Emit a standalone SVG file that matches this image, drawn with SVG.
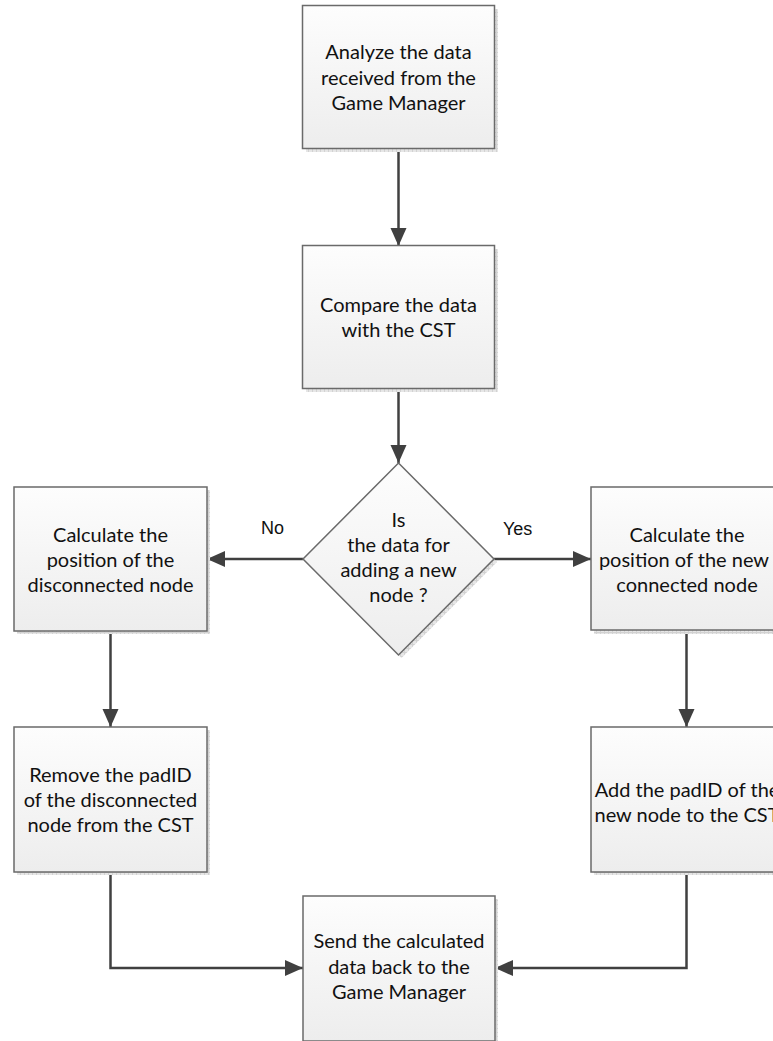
<svg xmlns="http://www.w3.org/2000/svg" width="773" height="1041" viewBox="0 0 773 1041">
  <defs>
    <linearGradient id="boxFill" x1="0" y1="0" x2="0" y2="1">
      <stop offset="0" stop-color="#fdfdfd"/>
      <stop offset="1" stop-color="#ededed"/>
    </linearGradient>
    <pattern id="shadowHatch" width="4" height="4" patternUnits="userSpaceOnUse">
      <rect width="4" height="4" fill="#e6e6e6"/>
      <path d="M0 0.5H4M0.5 0V4" stroke="#d2d2d2" stroke-width="1"/>
    </pattern>
    <marker id="arrow" markerUnits="userSpaceOnUse" markerWidth="20" markerHeight="18" refX="18" refY="8" orient="auto">
      <path d="M0 0L18 8L0 16Z" fill="#404040"/>
    </marker>
  </defs>
  <style>
    .shadow { fill: url(#shadowHatch); }
    .box { fill: url(#boxFill); stroke: #6a6a6a; stroke-width: 1.5; }
    .label { font-family: Lato, "Open Sans", sans-serif; font-size: 20px; fill: #111; text-anchor: middle; }
    .branch { font-family: "Liberation Sans", Arial, sans-serif; font-size: 18px; fill: #111; }
    .conn { fill: none; stroke: #404040; stroke-width: 2.5; marker-end: url(#arrow); }
  </style>

  <rect width="773" height="1041" fill="#ffffff"/>

  <!-- connectors -->
  <g id="connectors">
    <path class="conn" d="M398.5 148V246"/>
    <path class="conn" d="M398.5 389V463"/>
    <path class="conn" d="M303 559H207"/>
    <path class="conn" d="M494 559H591"/>
    <path class="conn" d="M110.5 631V727"/>
    <path class="conn" d="M686.5 630V727"/>
    <path class="conn" d="M110.5 872V968H303"/>
    <path class="conn" d="M686.5 872V968H495"/>
    <text class="branch" x="261" y="534">No</text>
    <text class="branch" x="503" y="535">Yes</text>
  </g>

  <!-- process: analyze incoming data -->
  <g id="analyze">
    <rect class="shadow" x="306" y="9" width="192" height="143"/>
    <rect class="box" x="302.5" y="5.5" width="192" height="143"/>
    <text class="label" x="398.5" y="59">Analyze the data</text>
    <text class="label" x="398.5" y="84.5">received from the</text>
    <text class="label" x="398.5" y="110">Game Manager</text>
  </g>

  <!-- process: compare with CST -->
  <g id="compare">
    <rect class="shadow" x="306" y="249" width="192" height="143"/>
    <rect class="box" x="302.5" y="245.5" width="192" height="143"/>
    <text class="label" x="398.5" y="311.5">Compare the data</text>
    <text class="label" x="398.5" y="337">with the CST</text>
  </g>

  <!-- decision -->
  <g id="decision">
    <path class="shadow" d="M401.5 466L497 562L401.5 658L306 562Z"/>
    <path class="box" d="M398.5 463L494 559L398.5 655L303 559Z"/>
    <text class="label" x="398.5" y="527">Is</text>
    <text class="label" x="398.5" y="552">the data for</text>
    <text class="label" x="398.5" y="577">adding a new</text>
    <text class="label" x="398.5" y="602">node ?</text>
  </g>

  <!-- left branch: disconnected node position -->
  <g id="calc-disconnected">
    <rect class="shadow" x="17" y="490" width="193" height="144"/>
    <rect class="box" x="14" y="487" width="193" height="144"/>
    <text class="label" x="110.5" y="542">Calculate the</text>
    <text class="label" x="110.5" y="567">position of the</text>
    <text class="label" x="110.5" y="592">disconnected node</text>
  </g>

  <!-- right branch: connected node position -->
  <g id="calc-connected">
    <rect class="shadow" x="594" y="490" width="193" height="144"/>
    <rect class="box" x="591" y="487" width="193" height="143"/>
    <text class="label" x="687" y="542">Calculate the</text>
    <text class="label" x="684" y="567">position of the new</text>
    <text class="label" x="687" y="592">connected node</text>
  </g>

  <!-- left branch: remove padID -->
  <g id="remove-padid">
    <rect class="shadow" x="17" y="730" width="193" height="145"/>
    <rect class="box" x="14" y="727" width="193" height="145"/>
    <text class="label" x="110.5" y="782">Remove the padID</text>
    <text class="label" x="110.5" y="807">of the disconnected</text>
    <text class="label" x="110.5" y="832">node from the CST</text>
  </g>

  <!-- right branch: add padID -->
  <g id="add-padid">
    <rect class="shadow" x="594" y="730" width="193" height="145"/>
    <rect class="box" x="591" y="727" width="193" height="145"/>
    <text class="label" x="687" y="797">Add the padID of the</text>
    <text class="label" x="687" y="822">new node to the CST</text>
  </g>

  <!-- process: send results back -->
  <g id="send-back">
    <rect class="shadow" x="306" y="899" width="192" height="145"/>
    <rect class="box" x="303" y="896" width="192" height="145"/>
    <text class="label" x="399" y="948">Send the calculated</text>
    <text class="label" x="399" y="974">data back to the</text>
    <text class="label" x="399" y="999">Game Manager</text>
  </g>
</svg>
